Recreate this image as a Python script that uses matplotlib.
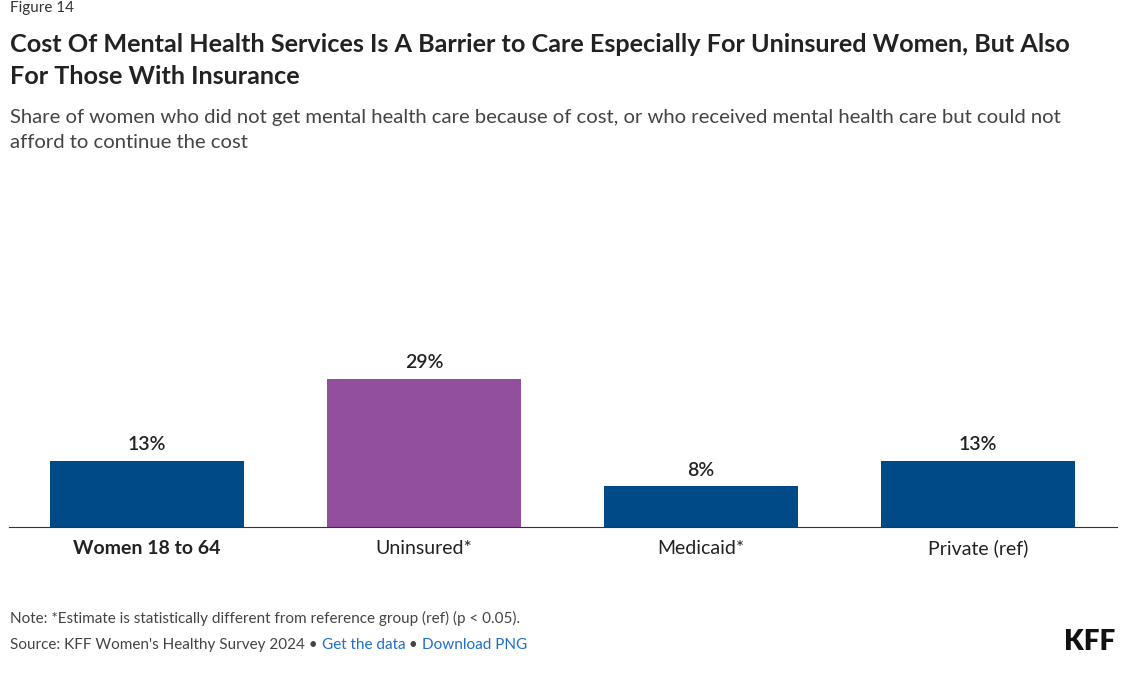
import matplotlib
matplotlib.use("Agg")
import matplotlib.pyplot as plt

categories = ["Women 18 to 64", "Uninsured*", "Medicaid*", "Private (ref)"]
values = [13, 29, 8, 13]
colors = ["#004b87", "#924f9d", "#004b87", "#004b87"]

plt.rcParams['font.family'] = ['Lato', 'DejaVu Sans']
W, H = 1121, 674
fig = plt.figure(figsize=(W/100, H/100), dpi=100)
ax = fig.add_axes([8.5/W, 1-527/H, 1108/W, 327/H])
x = range(len(categories))
ax.bar(x, values, width=0.7, color=colors)
for i, v in zip(x, values):
    ax.text(i, v + 1.5, f"{v}%", ha="center", va="bottom", fontsize=14, fontweight="semibold", color="#222222")
ax.set_xlim(-0.5, 3.5)
ax.set_ylim(0, 327/5.1)
ax.set_yticks([])
ax.set_xticks(list(x))
ax.set_xticklabels(categories, fontsize=14, color="#222222")
ax.get_xticklabels()[0].set_fontweight("bold")
ax.tick_params(axis="x", length=0, pad=9)
for s in ["top", "right", "left"]:
    ax.spines[s].set_visible(False)
ax.spines["bottom"].set_color("#333333")

fig.text(10/W, 1-8/H, "Figure 14", fontsize=11, color="#333333", va="center")
fig.text(10/W, 1-45/H, "Cost Of Mental Health Services Is A Barrier to Care Especially For Uninsured Women, But Also",
         fontsize=18.2, fontweight="bold", color="#222222", va="center")
fig.text(10/W, 1-76/H, "For Those With Insurance", fontsize=18.2, fontweight="bold", color="#222222", va="center")
fig.text(10/W, 1-118/H, "Share of women who did not get mental health care because of cost, or who received mental health care but could not",
         fontsize=14.55, color="#444444", va="center")
fig.text(10/W, 1-143/H, "afford to continue the cost", fontsize=14.55, color="#444444", va="center")
fig.text(10/W, 1-618/H, "Note: *Estimate is statistically different from reference group (ref) (p < 0.05).",
         fontsize=11, color="#444444", va="center")
t = fig.text(10/W, 1-645/H, "Source: KFF Women's Healthy Survey 2024 • ", fontsize=11, color="#444444", va="center")
fig.canvas.draw()
bb = t.get_window_extent()
t2 = fig.text(bb.x1/W, 1-645/H, "Get the data", fontsize=11, color="#1f6fc6", va="center")
fig.canvas.draw()
bb = t2.get_window_extent()
t3 = fig.text(bb.x1/W, 1-645/H, " • ", fontsize=11, color="#444444", va="center")
fig.canvas.draw()
bb = t3.get_window_extent()
fig.text(bb.x1/W, 1-645/H, "Download PNG", fontsize=11, color="#1f6fc6", va="center")
fig.text(1115/W, 1-642/H, "KFF", fontsize=20, fontweight="heavy", color="#111111", ha="right", va="center")
fig.savefig("out.png", dpi=100)
